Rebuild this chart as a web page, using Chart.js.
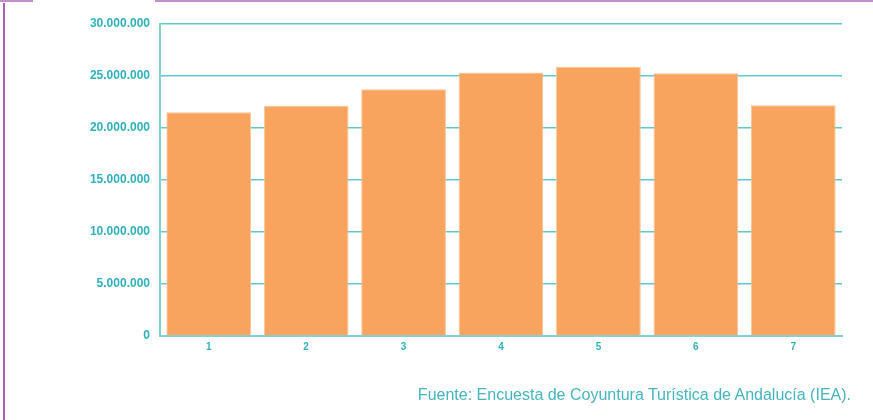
<!DOCTYPE html>
<html><head><meta charset="utf-8">
<script src="https://cdn.jsdelivr.net/npm/chart.js@4"></script>
<style>
html,body{margin:0;padding:0;background:#fff;width:873px;height:420px;overflow:hidden;position:relative;font-family:"Liberation Sans",Arial,sans-serif}
#wrap{position:absolute;left:0;top:0;width:873px;height:420px}
.frameL{position:absolute;left:3px;top:3px;width:2px;height:417px;background:#a95fb4}
.frameT{position:absolute;left:155px;top:0;width:718px;height:2px;background:#c08fc8}
.frameT2{position:absolute;left:0;top:0;width:33px;height:2px;background:#c08fc8}
#src{position:absolute;right:22px;top:386px;font-size:16px;color:#45b5c0;white-space:nowrap}
</style></head>
<body>
<div class="frameT2"></div><div class="frameT"></div><div class="frameL"></div>
<div id="wrap"><canvas id="c" width="873" height="420"></canvas></div>
<div id="src">Fuente: Encuesta de Coyuntura Turística de Andalucía (IEA).</div>
<script>
const categories = ['1','2','3','4','5','6','7'];
const values = [21510000, 22140000, 23720000, 25340000, 25890000, 25260000, 22180000];
const yTicks = [0, 5000000, 10000000, 15000000, 20000000, 25000000, 30000000];

const teal = '#2fb0bb';
const fmt = v => String(v).replace(/\B(?=(\d{3})+(?!\d))/g, '.');

new Chart(document.getElementById('c'), {
  type: 'bar',
  data: {
    labels: categories,
    datasets: [{
      data: values,
      backgroundColor: '#f8a35e',
      borderColor: '#fbc596',
      borderWidth: 1,
      borderSkipped: 'bottom',
      categoryPercentage: 1,
      barPercentage: 0.87
    }]
  },
  options: {
    responsive: false,
    animation: false,
    layout: { padding: { top: 24, right: 31, bottom: 64, left: 0 } },
    plugins: { legend: { display: false }, tooltip: { enabled: false } },
    scales: {
      x: {
        grid: { display: false, drawTicks: false },
        border: { display: true, color: '#7fd2d8', width: 2 },
        ticks: { color: teal, font: { family: 'Liberation Sans', size: 10, weight: 'bold' }, padding: 5 },
        afterFit: s => { s.height = 20; }
      },
      y: {
        min: 0, max: 30000000,
        afterBuildTicks: s => { s.ticks = yTicks.map(v => ({ value: v })); },
        grid: { color: '#5ec8d0', lineWidth: 1.6, drawTicks: false },
        border: { display: true, color: '#7fd2d8', width: 2 },
        ticks: { color: teal, font: { family: 'Liberation Sans', size: 12, weight: 'bold' }, padding: 10, callback: v => fmt(v) },
        afterFit: s => { s.width = 160; }
      }
    }
  }
});
</script>
</body></html>
